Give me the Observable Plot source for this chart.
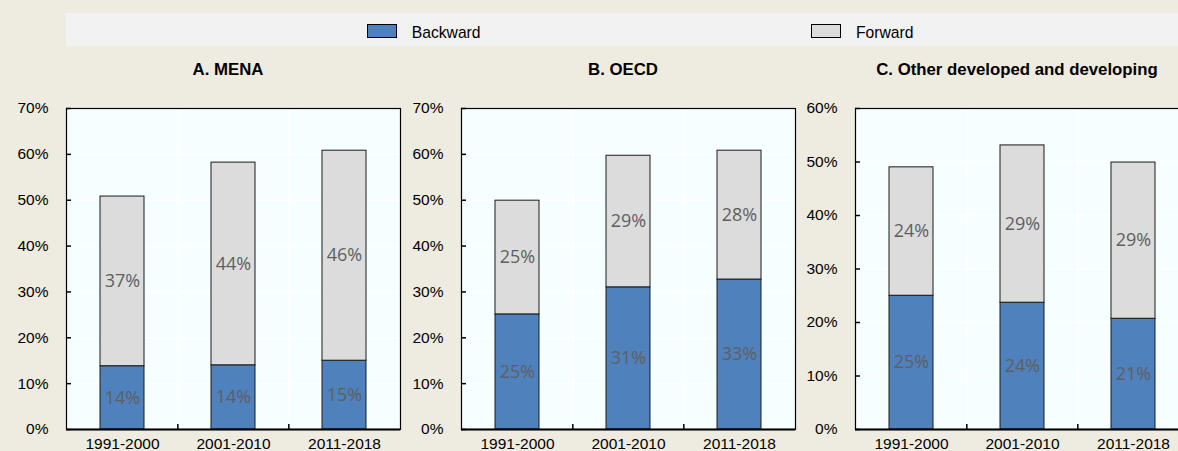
<!DOCTYPE html>
<html><head><meta charset="utf-8">
<script src="https://cdn.jsdelivr.net/npm/d3@7"></script>
<script src="https://cdn.jsdelivr.net/npm/@observablehq/plot@0.6"></script>
<style>
html,body{margin:0;padding:0;background:#EEEBE0;overflow:hidden;}
#wrap{position:relative;width:1178px;height:451px;overflow:hidden;font-family:"Liberation Sans",Arial,sans-serif;}
.legend{position:absolute;left:66px;top:13px;width:1112px;height:33px;background:#F2F2F2;}
.sw{position:absolute;top:11px;width:28px;height:12px;border:1px solid #000;}
.lt{position:absolute;top:11.5px;line-height:1;font-size:15.7px;color:#000;white-space:nowrap;}
.title{position:absolute;top:62px;line-height:1;font-weight:bold;font-size:16.8px;text-align:center;width:400px;color:#000;white-space:nowrap;}
.panel{position:absolute;top:98px;}
</style></head><body><div id="wrap"></div>
<script>
const periods = ["1991-2000", "2001-2010", "2011-2018"];
const series = ["Backward", "Forward"];
const seriesColors = ["#4F81BD", "#DCDCDC"];
const panelTitles = ["A. MENA", "B. OECD", "C. Other developed and developing"];
const menaBackward = [13.8, 14.0, 15.0];
const menaForward = [37.0, 44.2, 45.8];
const oecdBackward = [25.1, 31.0, 32.7];
const oecdForward = [24.8, 28.7, 28.1];
const otherBackward = [25.0, 23.7, 20.7];
const otherForward = [24.0, 29.4, 29.2];
const yTicksAB = [0, 10, 20, 30, 40, 50, 60, 70];
const yTicksC = [0, 10, 20, 30, 40, 50, 60];

const panelData = [
  {back: menaBackward, fwd: menaForward, ticks: yTicksAB},
  {back: oecdBackward, fwd: oecdForward, ticks: yTicksAB},
  {back: otherBackward, fwd: otherForward, ticks: yTicksC}
];

const wrap = document.getElementById("wrap");

// legend
const legend = document.createElement("div");
legend.className = "legend";
const legendPos = [{sw: 301, tx: 345.7}, {sw: 745, tx: 790}];
series.forEach((s, i) => {
  const sw = document.createElement("div");
  sw.className = "sw";
  sw.style.left = legendPos[i].sw + "px";
  sw.style.background = seriesColors[i];
  legend.appendChild(sw);
  const t = document.createElement("div");
  t.className = "lt";
  t.style.left = legendPos[i].tx + "px";
  t.textContent = s;
  legend.appendChild(t);
});
wrap.appendChild(legend);

const innerW = 334, innerH = 321;
const mL = 66, mR = 10, mT = 10, mB = 22;
const padIn = 0.6, padOut = 0.3;
const step = innerW / (periods.length - padIn + 2 * padOut);
const tickLen = 5;
const panelLefts = [0, 395, 789];

panelData.forEach((pd, i) => {
  const rows = periods.flatMap((p, j) => [
    {period: p, series: "Backward", value: pd.back[j]},
    {period: p, series: "Forward", value: pd.fwd[j]}
  ]);
  const yMax = pd.ticks[pd.ticks.length - 1];
  const chart = Plot.plot({
    width: mL + innerW + mR,
    height: mT + innerH + mB,
    marginLeft: mL, marginRight: mR, marginTop: mT, marginBottom: mB,
    style: {background: "transparent", fontFamily: "'Liberation Sans',Arial,sans-serif", fontSize: "15.5px", color: "#000", overflow: "visible"},
    x: {domain: periods, paddingInner: padIn, paddingOuter: padOut, label: null},
    y: {domain: [0, yMax], label: null},
    color: {domain: series, range: seriesColors},
    marks: [
      Plot.frame({fill: "#F5FFFF", stroke: null}),
      Plot.gridY(pd.ticks, {stroke: "#FFFFFF", strokeOpacity: 1, strokeWidth: 1.5}),
      Plot.ruleX(periods.slice(1), {dx: -step / 2, stroke: "#FFFFFF", strokeOpacity: 1, strokeWidth: 1.5}),
      Plot.barY(rows, {x: "period", y: "value", fill: "series", stroke: "#1a1a1a", strokeWidth: 1}),
      Plot.text(rows, Plot.stackY({x: "period", y: "value", text: d => Math.round(d.value) + "%", fill: "#5f5f5f", fontFamily: "'Open Sans', sans-serif", fontSize: 18})),
      Plot.ruleX(periods.slice(1), {dx: -step / 2, y1: 0, y2: yMax * tickLen / innerH, stroke: "#000", strokeWidth: 1.5}),
      Plot.tickY(pd.ticks, {y: d => d, insetRight: innerW - tickLen, stroke: "#000", strokeWidth: 1.5}),
      Plot.axisY(pd.ticks, {tickSize: 0, tickPadding: 18, tickFormat: d => d + "%"}),
      Plot.axisX({tickSize: 0, tickPadding: 8}),
      Plot.frame({stroke: "#000", strokeWidth: 1.2}),
      Plot.ruleY([0], {stroke: "#000", strokeWidth: 2})
    ]
  });
  chart.classList.add("panel");
  chart.style.left = panelLefts[i] + "px";
  chart.style.maxWidth = "none";
  wrap.appendChild(chart);

  const title = document.createElement("div");
  title.className = "title";
  title.style.left = (panelLefts[i] + mL + innerW / 2 - 5 - 200) + "px";
  title.textContent = panelTitles[i];
  wrap.appendChild(title);
});
</script>
</body></html>
